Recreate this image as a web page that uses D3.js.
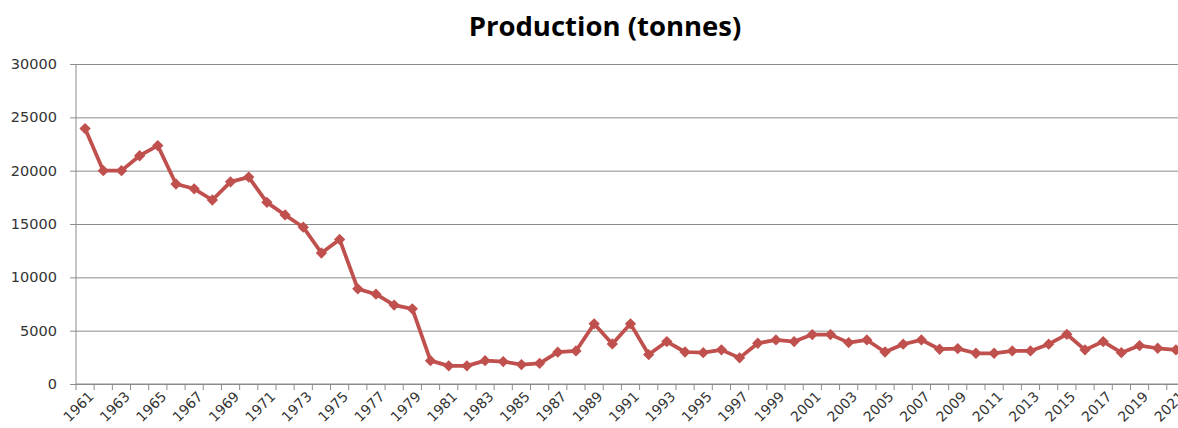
<!DOCTYPE html>
<html><head><meta charset="utf-8">
<script src="https://cdn.jsdelivr.net/npm/d3@7"></script>
<style>body{margin:0;background:#fff;overflow:hidden}svg{display:block}</style>
</head><body>
<svg id="c" width="1178" height="428"></svg>
<script>
const years = d3.range(1961, 2022);
const production = [23950,20000,20000,21400,22350,18750,18300,17250,18950,19400,
17030,15850,14700,12280,13550,8920,8420,7400,7050,2190,
1700,1700,2190,2100,1820,1940,2980,3100,5640,3760,
5640,2760,3980,3000,2940,3200,2450,3820,4130,3980,
4630,4630,3880,4130,3000,3730,4130,3260,3320,2880,
2880,3100,3100,3730,4660,3200,3980,2940,3600,3350,3200];
const yTicks = [0,5000,10000,15000,20000,25000,30000];
const title = "Production (tonnes)";

(function () {
const svg = d3.select("#c");
const pL = 76, pR = 1185, pT = 64, pB = 384;
const x = d3.scaleBand().domain(years).range([pL, pR]);
const y = d3.scaleLinear().domain([0, 30000]).range([pB, pT]);

svg.append("text").attr("x", 605).attr("y", 36).attr("text-anchor", "middle")
  .attr("font-family", "Open Sans").attr("font-weight", "bold").attr("font-size", 27.5)
  .attr("fill", "#000").text(title);

// gridlines + y axis
const ya = svg.append("g").attr("transform", `translate(${pL},0)`)
  .call(d3.axisLeft(y).tickValues(yTicks).tickFormat(d3.format("d"))
    .tickSize(-(pR - pL)).tickSizeOuter(0).tickPadding(19));
ya.select(".domain").remove();
ya.selectAll(".tick line").attr("stroke", "#8c8c8c").attr("x1", -6).attr("stroke-width", 1);
ya.selectAll(".tick text").attr("font-family", "DejaVu Sans").attr("font-size", 14.5).attr("fill", "#333");

svg.append("line").attr("x1", pL).attr("x2", pL).attr("y1", pT).attr("y2", pB)
  .attr("stroke", "#8c8c8c");

// x axis
const tickPos = years.map(d => x(d)).concat([pR]);
svg.append("line").attr("x1", pL).attr("x2", pR).attr("y1", pB).attr("y2", pB).attr("stroke", "#8c8c8c");
svg.selectAll(".xt").data(tickPos).join("line")
  .attr("x1", d => d).attr("x2", d => d).attr("y1", pB).attr("y2", pB + 6)
  .attr("stroke", "#8c8c8c");
svg.selectAll(".xl").data(years.filter((d, i) => i % 2 === 0)).join("text")
  .attr("transform", d => `translate(${x(d) + x.bandwidth() / 2 + 6},${pB + 10}) rotate(-45)`)
  .attr("text-anchor", "end").attr("dy", "0.35em")
  .attr("font-family", "DejaVu Sans").attr("font-size", 14).attr("fill", "#333")
  .text(d => d);

// line
const cx = d => x(d) + x.bandwidth() / 2;
const pts = years.map((d, i) => [cx(d), y(production[i])]);
svg.append("path").attr("d", d3.line()(pts)).attr("fill", "none")
  .attr("stroke", "#C0504D").attr("stroke-width", 3.75).attr("stroke-linejoin", "round");
svg.selectAll(".m").data(years).join("path")
  .attr("transform", (d, i) => `translate(${cx(d)},${y(production[i])}) rotate(45)`)
  .attr("d", "M-4,-4H4V4H-4Z").attr("fill", "#C0504D");
})();
</script>
</body></html>
